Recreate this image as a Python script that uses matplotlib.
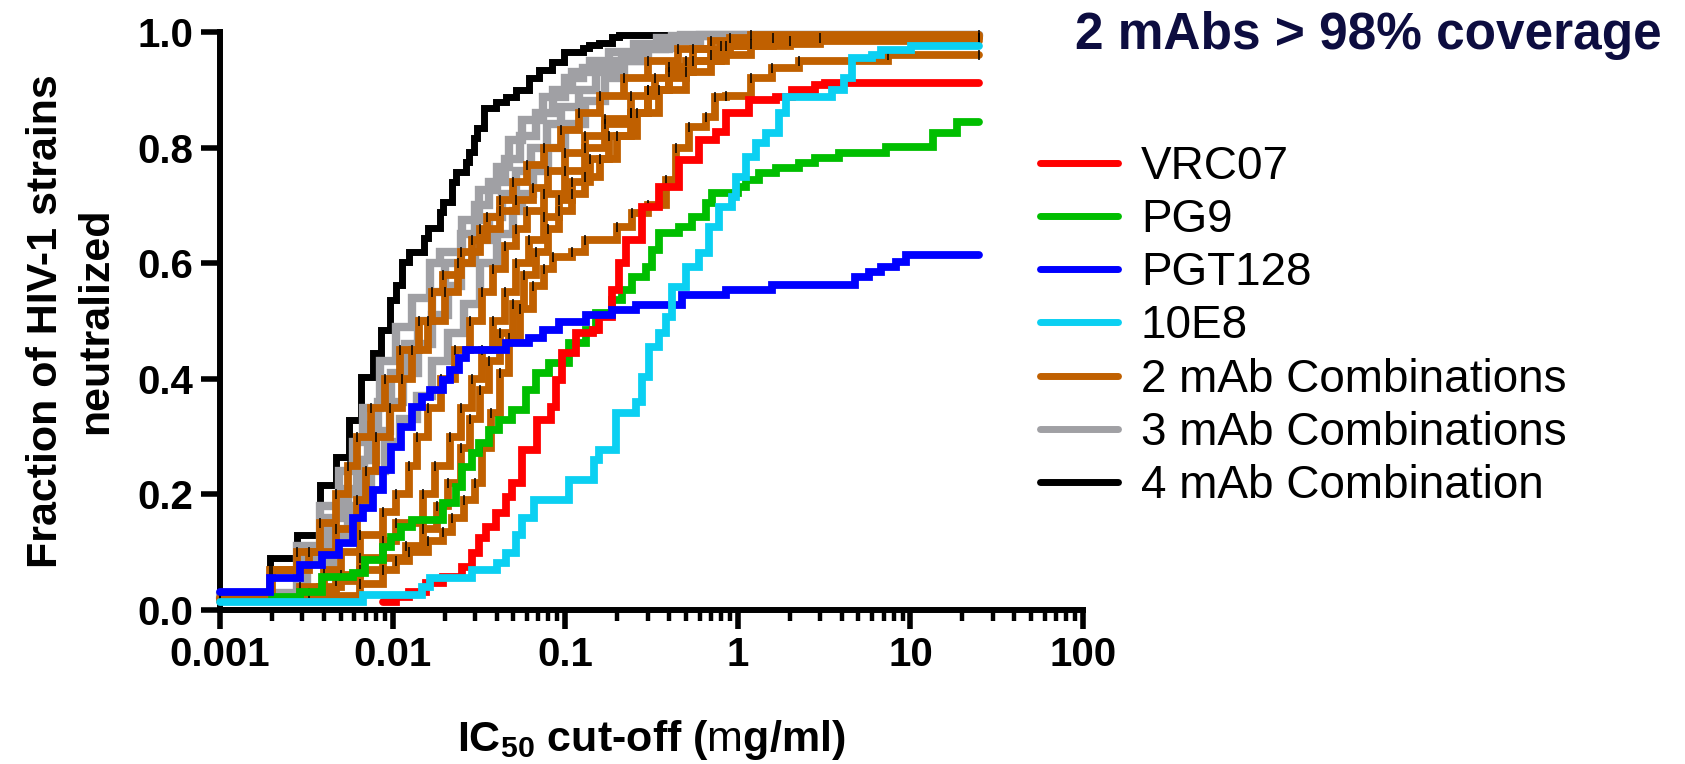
import matplotlib
matplotlib.use("Agg")
import matplotlib.pyplot as plt
from matplotlib import font_manager
from matplotlib.lines import Line2D
from matplotlib.ticker import FixedLocator, LogLocator, NullFormatter, FixedFormatter

# ---------------- data ----------------
X_END = 25.0

VRC07_X = [0.0088, 0.0105, 0.0125, 0.0157, 0.0195, 0.0254, 0.029, 0.0318, 0.0348, 0.0398, 0.0455, 0.049, 0.056,
           0.069, 0.083, 0.089, 0.096, 0.116, 0.144, 0.157, 0.187, 0.205, 0.225, 0.278, 0.35, 0.456, 0.594, 0.743,
           0.85, 1.16, 1.66, 2.05, 2.8, 3.2]
VRC07_Y = [0.014, 0.022, 0.031, 0.047, 0.057, 0.074, 0.099, 0.125, 0.144, 0.168, 0.196, 0.22, 0.277, 0.329, 0.351,
           0.398, 0.444, 0.479, 0.484, 0.507, 0.554, 0.6, 0.64, 0.697, 0.732, 0.779, 0.813, 0.827, 0.86, 0.882,
           0.888, 0.9, 0.908, 0.912]

PG9_X = [0.002, 0.0029, 0.0039, 0.0059, 0.0069, 0.0088, 0.0098, 0.0112, 0.013, 0.0195, 0.0234, 0.0254, 0.029,
         0.0318, 0.036, 0.0415, 0.049, 0.059, 0.068, 0.081, 0.105, 0.132, 0.151, 0.187, 0.213, 0.244, 0.295, 0.318,
         0.35, 0.456, 0.542, 0.65, 0.71, 1.0, 1.12, 1.32, 1.66, 2.26, 2.8, 3.85, 7.2, 13.5, 18.5]
PG9_Y = [0.022, 0.031, 0.057, 0.064, 0.087, 0.109, 0.126, 0.144, 0.156, 0.185, 0.213, 0.247, 0.272, 0.289, 0.311,
         0.329, 0.346, 0.38, 0.41, 0.427, 0.462, 0.484, 0.514, 0.536, 0.554, 0.576, 0.593, 0.623, 0.652, 0.663,
         0.68, 0.704, 0.721, 0.732, 0.744, 0.756, 0.765, 0.773, 0.782, 0.79, 0.801, 0.825, 0.845]

PGT128_X = [0.001, 0.00195, 0.0029, 0.0039, 0.0049, 0.0059, 0.0067, 0.0077, 0.0088, 0.0098, 0.0112, 0.013, 0.0149,
            0.0164, 0.0195, 0.0214, 0.0244, 0.0267, 0.0455, 0.062, 0.074, 0.092, 0.132, 0.187, 0.257, 0.476, 0.85,
            1.57, 4.8, 5.75, 6.8, 8.2, 9.4]
PGT128_Y = [0.031, 0.055, 0.078, 0.095, 0.116, 0.159, 0.176, 0.208, 0.242, 0.282, 0.317, 0.351, 0.368, 0.38, 0.398,
            0.415, 0.436, 0.45, 0.462, 0.47, 0.484, 0.498, 0.51, 0.519, 0.528, 0.545, 0.554, 0.562, 0.576, 0.585,
            0.593, 0.602, 0.614]

E10E8_X = [0.001, 0.0067, 0.0149, 0.0164, 0.029, 0.04, 0.0455, 0.052, 0.0565, 0.066, 0.105, 0.147, 0.157, 0.198,
           0.257, 0.278, 0.305, 0.35, 0.383, 0.416, 0.5, 0.594, 0.68, 0.78, 0.93, 0.98, 1.12, 1.28, 1.46, 1.73,
           1.9, 3.5, 4.1, 4.6, 6.0, 6.8, 10.1]
E10E8_Y = [0.014, 0.026, 0.04, 0.055, 0.069, 0.081, 0.099, 0.13, 0.16, 0.19, 0.225, 0.26, 0.277, 0.34, 0.36, 0.403,
           0.455, 0.48, 0.507, 0.559, 0.593, 0.617, 0.663, 0.697, 0.715, 0.75, 0.784, 0.808, 0.825, 0.86, 0.888,
           0.9, 0.92, 0.955, 0.96, 0.969, 0.975]

COMBO2_X = [
    [0.001, 0.00195, 0.0028, 0.0038, 0.0047, 0.0055, 0.0062, 0.0075, 0.009, 0.011, 0.0143, 0.017, 0.0195, 0.025,
     0.032, 0.042, 0.052, 0.065, 0.08, 0.1, 0.13, 0.17, 0.24, 0.3, 0.4, 0.55, 0.9],
    [0.001, 0.002, 0.0033, 0.0047, 0.0062, 0.007, 0.008, 0.0096, 0.0114, 0.013, 0.016, 0.02, 0.024, 0.029, 0.035,
     0.042, 0.05, 0.06, 0.075, 0.095, 0.12, 0.16, 0.22, 0.3, 0.45, 0.7, 1.2],
    [0.001, 0.0029, 0.004, 0.005, 0.0065, 0.0088, 0.0105, 0.0125, 0.0138, 0.016, 0.019, 0.023, 0.028, 0.033,
     0.038, 0.045, 0.052, 0.06, 0.075, 0.1, 0.13, 0.17, 0.24, 0.33, 0.5, 0.8, 1.6],
    [0.001, 0.0038, 0.005, 0.0065, 0.0088, 0.0105, 0.015, 0.0175, 0.0214, 0.025, 0.029, 0.033, 0.038, 0.045,
     0.052, 0.062, 0.075, 0.092, 0.11, 0.14, 0.18, 0.24, 0.3, 0.4, 0.55, 0.85, 2.0],
    [0.001, 0.0033, 0.0047, 0.0065, 0.0088, 0.012, 0.015, 0.018, 0.021, 0.025, 0.028, 0.032, 0.036, 0.042, 0.05,
     0.058, 0.068, 0.08, 0.092, 0.11, 0.13, 0.16, 0.2, 0.26, 0.35, 0.5, 0.7, 1.2, 3.0],
    [0.001, 0.0029, 0.0065, 0.0088, 0.0105, 0.0125, 0.016, 0.0195, 0.022, 0.026, 0.03, 0.033, 0.037, 0.042, 0.047,
     0.055, 0.065, 0.075, 0.085, 0.11, 0.13, 0.2, 0.244, 0.3, 0.383, 0.44, 0.52, 0.65, 0.74, 0.85, 1.2, 1.57,
     2.26, 7.4],
]
COMBO2_Y = [
    [0.02, 0.07, 0.1, 0.15, 0.2, 0.25, 0.3, 0.35, 0.4, 0.45, 0.5, 0.55, 0.58, 0.62, 0.66, 0.69, 0.71, 0.73, 0.76,
     0.79, 0.82, 0.84, 0.86, 0.9, 0.94, 0.97, 0.99],
    [0.02, 0.07, 0.1, 0.14, 0.19, 0.24, 0.3, 0.35, 0.4, 0.45, 0.5, 0.55, 0.6, 0.64, 0.68, 0.71, 0.74, 0.77, 0.8,
     0.83, 0.86, 0.89, 0.92, 0.95, 0.97, 0.985, 0.995],
    [0.015, 0.04, 0.07, 0.1, 0.13, 0.17, 0.2, 0.25, 0.3, 0.35, 0.4, 0.45, 0.5, 0.55, 0.59, 0.63, 0.66, 0.69,
     0.72, 0.76, 0.8, 0.85, 0.89, 0.92, 0.95, 0.975, 0.99],
    [0.015, 0.04, 0.06, 0.09, 0.12, 0.15, 0.2, 0.25, 0.3, 0.35, 0.4, 0.45, 0.5, 0.55, 0.6, 0.64, 0.68, 0.71,
     0.74, 0.78, 0.82, 0.86, 0.9, 0.93, 0.95, 0.975, 0.985],
    [0.015, 0.03, 0.05, 0.07, 0.09, 0.11, 0.14, 0.18, 0.22, 0.28, 0.33, 0.38, 0.43, 0.48, 0.53, 0.58, 0.62, 0.66,
     0.69, 0.72, 0.75, 0.78, 0.82, 0.86, 0.9, 0.93, 0.96, 0.98, 0.99],
    [0.015, 0.025, 0.045, 0.07, 0.085, 0.1, 0.12, 0.135, 0.16, 0.19, 0.22, 0.28, 0.34, 0.41, 0.47, 0.52, 0.56,
     0.59, 0.61, 0.62, 0.64, 0.663, 0.687, 0.7, 0.744, 0.8, 0.836, 0.853, 0.888, 0.89, 0.92, 0.938, 0.95, 0.96],
]

COMBO3_X = [
    [0.001, 0.0028, 0.0038, 0.0049, 0.0059, 0.0067, 0.0084, 0.0105, 0.013, 0.0164, 0.0187, 0.0254, 0.0318, 0.04,
     0.047, 0.056, 0.074, 0.1, 0.126, 0.213, 0.267, 0.416],
    [0.001, 0.0029, 0.004, 0.005, 0.0062, 0.0072, 0.0082, 0.0098, 0.0118, 0.014, 0.017, 0.02, 0.025, 0.03, 0.036,
     0.045, 0.055, 0.068, 0.085, 0.11, 0.14, 0.18, 0.25, 0.34, 0.47],
    [0.001, 0.003, 0.0042, 0.0055, 0.0068, 0.008, 0.0096, 0.0115, 0.014, 0.017, 0.021, 0.025, 0.03, 0.036, 0.043,
     0.052, 0.063, 0.078, 0.095, 0.12, 0.15, 0.2, 0.27, 0.38, 0.55],
    [0.001, 0.0032, 0.0045, 0.006, 0.0075, 0.009, 0.011, 0.0138, 0.017, 0.021, 0.026, 0.032, 0.04, 0.05, 0.056,
     0.065, 0.08, 0.1, 0.13, 0.17, 0.22, 0.3, 0.4, 0.6],
]
COMBO3_Y = [
    [0.03, 0.11, 0.18, 0.24, 0.29, 0.35, 0.43, 0.49, 0.54, 0.6, 0.62, 0.675, 0.727, 0.766, 0.813, 0.848, 0.888,
     0.92, 0.938, 0.96, 0.972, 0.993],
    [0.025, 0.1, 0.16, 0.21, 0.26, 0.32, 0.36, 0.41, 0.46, 0.5, 0.55, 0.6, 0.65, 0.7, 0.74, 0.78, 0.82, 0.86,
     0.9, 0.93, 0.95, 0.965, 0.98, 0.99, 0.995],
    [0.02, 0.09, 0.14, 0.2, 0.26, 0.31, 0.36, 0.41, 0.46, 0.51, 0.56, 0.6, 0.64, 0.68, 0.72, 0.76, 0.8, 0.84,
     0.87, 0.9, 0.93, 0.95, 0.97, 0.985, 0.993],
    [0.02, 0.08, 0.13, 0.18, 0.24, 0.29, 0.33, 0.37, 0.43, 0.48, 0.53, 0.6, 0.65, 0.69, 0.72, 0.76, 0.8, 0.84,
     0.88, 0.92, 0.95, 0.97, 0.985, 0.995],
]

COMBO4_X = [0.001, 0.00195, 0.0028, 0.0038, 0.0047, 0.0056, 0.0066, 0.0077, 0.0086, 0.0096, 0.0105, 0.0114, 0.0125,
            0.0153, 0.016, 0.0187, 0.0195, 0.022, 0.0234, 0.0267, 0.0278, 0.0297, 0.031, 0.034, 0.0398, 0.0455,
            0.052, 0.062, 0.0708, 0.084, 0.099, 0.126, 0.138, 0.157, 0.187, 0.205]
COMBO4_Y = [0.03, 0.09, 0.13, 0.216, 0.265, 0.329, 0.403, 0.444, 0.484, 0.536, 0.562, 0.602, 0.619, 0.644, 0.661,
            0.689, 0.706, 0.74, 0.758, 0.775, 0.792, 0.817, 0.834, 0.869, 0.879, 0.888, 0.9, 0.92, 0.934, 0.948,
            0.965, 0.972, 0.978, 0.981, 0.991, 0.995]

LEGEND_LABELS = ["VRC07", "PG9", "PGT128", "10E8", "2 mAb Combinations", "3 mAb Combinations", "4 mAb Combination"]
X_TICKS = [0.001, 0.01, 0.1, 1, 10, 100]
X_TICK_LABELS = ["0.001", "0.01", "0.1", "1", "10", "100"]
Y_TICKS = [0.0, 0.2, 0.4, 0.6, 0.8, 1.0]
Y_TICK_LABELS = ["0.0", "0.2", "0.4", "0.6", "0.8", "1.0"]

# ---------------- style ----------------
names = {f.name for f in font_manager.fontManager.ttflist}
FONT = "Liberation Sans Narrow" if "Liberation Sans Narrow" in names else "Liberation Sans"
plt.rcParams["font.family"] = [FONT, "DejaVu Sans"]
plt.rcParams["mathtext.fontset"] = "custom"
plt.rcParams["mathtext.rm"] = FONT + ":bold"
plt.rcParams["mathtext.bf"] = FONT + ":bold"
plt.rcParams["mathtext.it"] = FONT

C_RED = "#FF0000"
C_GREEN = "#00BE00"
C_BLUE = "#0000FF"
C_CYAN = "#0BD0F2"
C_ORANGE = "#C06000"
C_GRAY = "#A0A0A4"
C_BLACK = "#000000"
LW = 5.6

fig = plt.figure(figsize=(16.85, 7.64), dpi=100)
ax = fig.add_axes([220 / 1685, 1 - 610 / 764, (1083 - 220) / 1685, (610 - 32) / 764])


def step(xs, ys, color, z, lw=LW, ticks=False):
    xx = list(xs) + [X_END]
    yy = list(ys) + [ys[-1]]
    ax.plot(xx, yy, drawstyle="steps-post", color=color, lw=lw, zorder=z,
            solid_capstyle="round", solid_joinstyle="miter", clip_on=False)
    if ticks:
        ax.plot(xx, yy, linestyle="none", marker="|", markersize=6.5, markeredgewidth=1.1,
                color="black", zorder=z + 0.01, clip_on=False)


step(COMBO4_X, COMBO4_Y, C_BLACK, 2, lw=5.0)
for xs, ys in zip(COMBO3_X, COMBO3_Y):
    step(xs, ys, C_GRAY, 3, lw=6.0)
for xs, ys in zip(COMBO2_X, COMBO2_Y):
    step(xs, ys, C_ORANGE, 4, ticks=True)
step(PG9_X, PG9_Y, C_GREEN, 5)
step(VRC07_X, VRC07_Y, C_RED, 6)
step(PGT128_X, PGT128_Y, C_BLUE, 7)
step(E10E8_X, E10E8_Y, C_CYAN, 8)

ax.set_xscale("log")
ax.set_xlim(0.001, 100)
ax.set_ylim(0, 1.0)
for s in ["top", "right"]:
    ax.spines[s].set_visible(False)
for s in ["left", "bottom"]:
    ax.spines[s].set_linewidth(4.3)
    ax.spines[s].set_capstyle("projecting")

ax.xaxis.set_major_locator(FixedLocator(X_TICKS))
ax.xaxis.set_major_formatter(FixedFormatter(X_TICK_LABELS))
ax.xaxis.set_minor_locator(LogLocator(base=10, subs=[2, 3, 4, 5, 6, 7, 8, 9], numticks=20))
ax.xaxis.set_minor_formatter(NullFormatter())
ax.yaxis.set_major_locator(FixedLocator(Y_TICKS))
ax.yaxis.set_major_formatter(FixedFormatter(Y_TICK_LABELS))

ax.tick_params(axis="both", which="major", direction="out", length=14, width=4, labelsize=29, pad=5)
ax.tick_params(axis="x", which="minor", direction="out", length=8, width=3.2)
for lab in ax.get_xticklabels() + ax.get_yticklabels():
    lab.set_fontweight("bold")

fig.text(71 / 1685, 1 - 321 / 764, "Fraction of HIV-1 strains\nneutralized", rotation=90,
         ha="center", va="center", fontsize=31, fontweight="bold", linespacing=1.3)
fig.text(651 / 1685, 1 - 740 / 764, r"IC$_{50}$ cut-off ($\mathit{m}$g/ml)",
         ha="center", va="center", fontsize=31, fontweight="bold")

fig.text(1368 / 1685, 1 - 36 / 764, "2 mAbs > 98% coverage", ha="center", va="center",
         fontsize=37, fontweight="bold", color="#0D0D40")

colors = [C_RED, C_GREEN, C_BLUE, C_CYAN, C_ORANGE, C_GRAY, C_BLACK]
handles = [Line2D([0], [0], color=c, lw=5, solid_capstyle="round") for c in colors]
fig.legend(handles, LEGEND_LABELS, loc="upper left", bbox_to_anchor=(1040 / 1685, 1 - 145 / 764),
           frameon=False, fontsize=33, handlelength=1.7, handletextpad=0.5, labelspacing=0.2,
           borderpad=0, borderaxespad=0)

fig.savefig("out.png", dpi=100)
